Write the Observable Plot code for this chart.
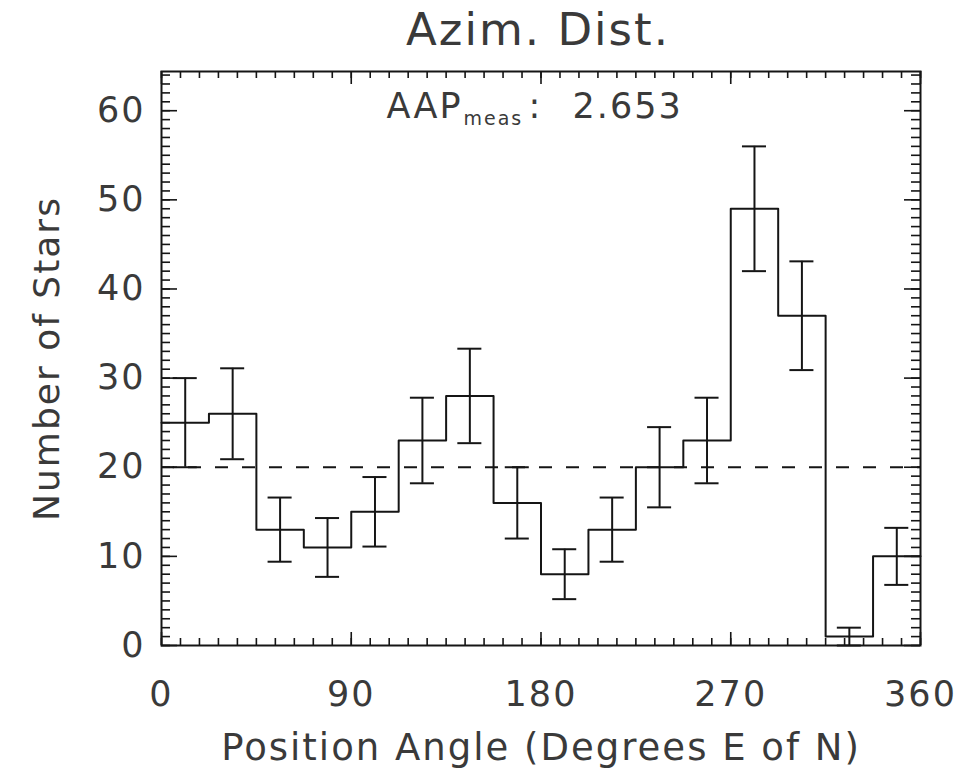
<!DOCTYPE html>
<html>
<head>
<meta charset="utf-8">
<script src="https://cdn.jsdelivr.net/npm/d3@7"></script>
<script src="https://cdn.jsdelivr.net/npm/@observablehq/plot@0.6"></script>
<style>
  html, body { margin: 0; padding: 0; background: #fff; }
  #chart { width: 971px; height: 776px; }
</style>
</head>
<body>
<div id="chart"></div>
<script>
// ---- Data ----
const binEdges = [0, 22.5, 45, 67.5, 90, 112.5, 135, 157.5, 180, 202.5, 225, 247.5, 270, 292.5, 315, 337.5, 360];
const counts   = [25, 26, 13, 11, 15, 23, 28, 16, 8, 13, 20, 23, 49, 37, 1, 10];
const errors   = [5.0, 5.1, 3.6, 3.3, 3.9, 4.8, 5.3, 4.0, 2.8, 3.6, 4.5, 4.8, 7.0, 6.1, 1.0, 3.2];
const meanLevel = [20];
const xTickLabels = [0, 90, 180, 270, 360];
const yTickLabels = [0, 10, 20, 30, 40, 50, 60];
const titleText = "Azim. Dist.";
const xLabel = "Position Angle (Degrees E of N)";
const yLabel = "Number of Stars";
const aapName = "AAP";
const aapSub = "meas";
const aapValue = "2.653";

// ---- Derived tables ----
const steps = counts.map((c, i) => ({x: binEdges[i], y: c}));
steps.push({x: binEdges[binEdges.length - 1], y: counts[counts.length - 1]});
const bars = counts.map((c, i) => ({
  c: (binEdges[i] + binEdges[i + 1]) / 2,
  lo: c - errors[i],
  hi: c + errors[i]
}));
const capHalf = 5.7; // degrees
const xMinor = d3.range(0, 361, 9);
const yMinor = d3.range(0, 65, 1);

const W = 971, H = 776;
const mL = 161, mR = 51, mT = 71, mB = 131;
const fw = W - mL - mR, fh = H - mT - mB;
const ink = "#151515";
const font = "'DejaVu Sans', 'Liberation Sans', sans-serif";
const tc = "#3a3a3a";

const chart = Plot.plot({
  width: W,
  height: H,
  marginLeft: mL, marginRight: mR, marginTop: mT, marginBottom: mB,
  style: {fontFamily: font, letterSpacing: "2px", background: "#fff"},
  x: {domain: [0, 360], axis: null},
  y: {domain: [0, 64.4], axis: null},
  marks: [
    // ticks on all four sides
    Plot.tickX(xMinor, {x: d => d, insetTop: fh - 7, stroke: ink, strokeWidth: 1.6}),
    Plot.tickX(xMinor, {x: d => d, insetBottom: fh - 7, stroke: ink, strokeWidth: 1.6}),
    Plot.tickX(xTickLabels, {x: d => d, insetTop: fh - 13, stroke: ink, strokeWidth: 1.6}),
    Plot.tickX(xTickLabels, {x: d => d, insetBottom: fh - 13, stroke: ink, strokeWidth: 1.6}),
    Plot.tickY(yMinor, {y: d => d, insetRight: fw - 9, stroke: ink, strokeWidth: 1.6}),
    Plot.tickY(yMinor, {y: d => d, insetLeft: fw - 9, stroke: ink, strokeWidth: 1.6}),
    Plot.tickY(yTickLabels, {y: d => d, insetRight: fw - 16, stroke: ink, strokeWidth: 1.6}),
    Plot.tickY(yTickLabels, {y: d => d, insetLeft: fw - 16, stroke: ink, strokeWidth: 1.6}),
    // dashed reference line
    Plot.ruleY(meanLevel, {y: d => d, stroke: ink, strokeWidth: 2, strokeDasharray: "13,14"}),
    // histogram steps
    Plot.line(steps, {x: "x", y: "y", curve: "step-after", stroke: ink, strokeWidth: 2}),
    // error bars
    Plot.ruleX(bars, {x: "c", y1: "lo", y2: "hi", stroke: ink, strokeWidth: 2}),
    Plot.ruleY(bars, {y: "lo", x1: d => d.c - capHalf, x2: d => d.c + capHalf, stroke: ink, strokeWidth: 2}),
    Plot.ruleY(bars, {y: "hi", x1: d => d.c - capHalf, x2: d => d.c + capHalf, stroke: ink, strokeWidth: 2}),
    Plot.frame({stroke: ink, strokeWidth: 2}),
    // tick labels
    Plot.text(xTickLabels, {x: d => d, frameAnchor: "bottom", dy: 49, lineAnchor: "middle", text: d => String(d), fontSize: 35, fill: tc}),
    Plot.text(yTickLabels, {y: d => d, frameAnchor: "left", dx: -16, textAnchor: "end", lineAnchor: "middle", text: d => String(d), fontSize: 35, fill: tc}),
    // axis titles
    Plot.text([xLabel], {frameAnchor: "bottom", dy: 103, lineAnchor: "middle", text: d => d, fontSize: 37, fill: tc}),
    Plot.text([yLabel], {frameAnchor: "left", dx: -114, rotate: -90, textAnchor: "middle", lineAnchor: "middle", text: d => d, fontSize: 36, fill: tc}),
    // title
    Plot.text([titleText], {frameAnchor: "top", dy: -41, dx: -3, lineAnchor: "middle", text: d => d, fontSize: 45, fill: tc}),
    // AAP annotation
    Plot.text([aapName], {frameAnchor: "top-left", dx: 462 - mL, dy: 35, textAnchor: "end", lineAnchor: "middle", text: d => d, fontSize: 35, fill: tc}),
    Plot.text([aapSub], {frameAnchor: "top-left", dx: 463 - mL, dy: 47, textAnchor: "start", lineAnchor: "middle", text: d => d, fontSize: 19, fill: tc, letterSpacing: 0}),
    Plot.text([":"], {frameAnchor: "top-left", dx: 535 - mL, dy: 35, textAnchor: "middle", lineAnchor: "middle", text: d => d, fontSize: 35, fill: tc}),
    Plot.text([aapValue], {frameAnchor: "top-left", dx: 572 - mL, dy: 35, textAnchor: "start", lineAnchor: "middle", text: d => d, fontSize: 35, fill: tc})
  ]
});
document.getElementById("chart").appendChild(chart);
</script>
</body>
</html>
